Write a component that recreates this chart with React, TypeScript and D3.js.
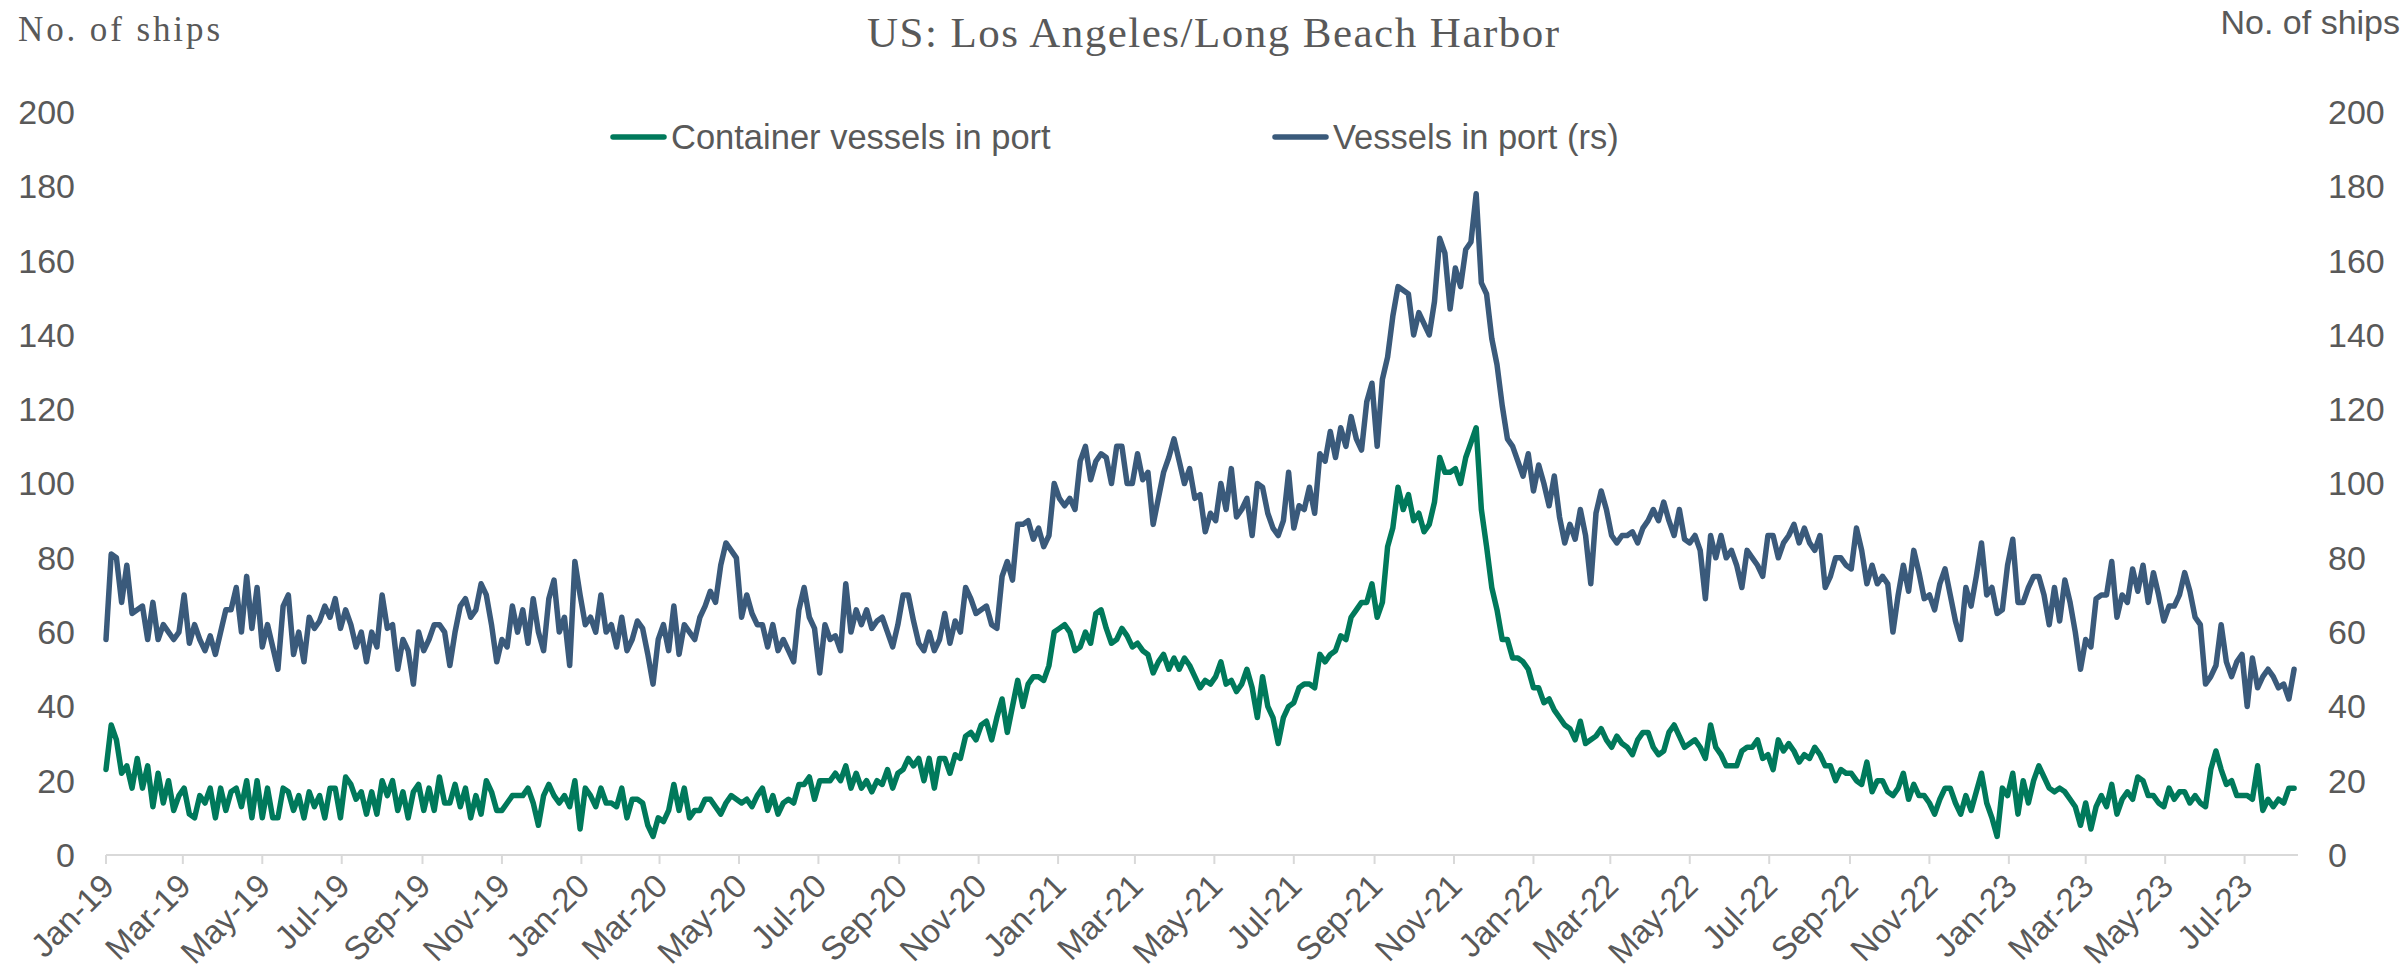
import React from 'react';
import * as d3 from 'd3';

// ---------- text ----------
const chartTitle = 'US: Los Angeles/Long Beach Harbor';
const leftAxisTitle = 'No. of ships';
const rightAxisTitle = 'No. of ships';
const containerName = 'Container vessels in port';
const vesselsName = 'Vessels in port (rs)';

// ---------- axes ----------
const yTickValues = [0, 20, 40, 60, 80, 100, 120, 140, 160, 180, 200];
const axisStart = '2019-01-01';
const axisEnd = '2023-08-11';
const sampleStepDays = 4; // one reading every 4 days, starting at axisStart

// ---------- data: container vessels in port (left scale) ----------
const container2019 = [23,35,31,22,24,18,26,18,24,13, 22,14,20,12,16,18,11,10,16,14,
  18,10,18,12,17,18,13,20,10,20, 10,18,10,10,18,17,12,16,10,17, 13,16,10,18,18,10,21,19,15,17,
  11,17,11,20,16,20,12,17,10,17, 19,12,18,12,21,14,14,19,13,18, 10,16,11,20,17,12,12,14,16,16,
  16,18,14,8,16,19,16,14,16,13, 20,7];
const container2020 = [18,16,13,18,14,14,13,18,10,15, 15,14,8,5,10,9,12,19,12,18,
  10,12,12,15,15,13,11,14,16,15, 14,15,13,16,18,12,16,11,14,15, 14,19,19,21,15,20,20,20,22,20,
  24,18,22,18,20,17,20,19,23,18, 22,23,26,24,26,20,26,18,26,26, 22,27,26,32,33,31,35,36,31,37,
  42,33,40,47,40,46,48,48,47,51, 60];
const container2021 = [61,62,60,55,56,60,57,65,66,61, 57,58,61,59,56,57,55,54,49,52,
  54,50,53,50,53,51,48,45,47,46, 48,52,46,47,44,46,50,45,37,48, 40,37,30,37,40,41,45,46,46,45,
  54,52,54,55,59,58,64,66,68,68, 73,64,68,83,88,99,93,97,90,92, 87,89,95,107,103,103,104,100,107,111,
  115,93,83,72,66,58,58,53,53,52, 50];
const container2022 = [45,45,41,42,39,37,35,34,31,36, 30,31,32,34,31,29,32,30,29,27,
  31,33,33,29,27,28,33,35,32,29, 30,31,29,26,35,29,27,24,24,24, 28,29,29,31,26,27,23,31,28,30,
  28,25,27,26,29,27,24,24,20,23, 22,22,20,19,25,17,20,20,17,16, 18,22,15,19,16,16,14,11,15,18,
  18,14,11,16,12,17,22,14,10,5, 18];
const container2023 = [16,22,11,20,14,20,24,21,18,17, 18,17,15,13,8,14,7,13,16,13,
  19,11,15,17,15,21,20,16,16,14, 13,18,15,17,17,14,16,14,13,23, 28,23,19,20,16,16,16,15,24,12,
  15,13,15,14,18,18];

// ---------- data: all vessels in port (right scale) ----------
const vessels2019 = [58,81,80,68,78,65,66,67,58,68, 58,62,60,58,60,70,57,62,58,55,
  59,54,60,66,66,72,60,75,61,72, 56,62,56,50,67,70,54,60,52,64, 61,63,67,64,69,61,66,62,56,60,
  52,60,56,70,61,62,50,58,55,46, 60,55,58,62,62,60,51,60,67,69, 64,66,73,70,62,52,58,56,67,60,
  66,57,69,60,55,69,74,60,64,51, 79,70];
const vessels2020 = [62,64,60,70,60,62,56,64,55,58, 63,61,54,46,58,62,55,67,54,62,
  60,58,64,67,71,68,78,84,82,80, 64,70,65,62,62,56,62,55,58,55, 52,66,72,64,61,49,62,58,59,55,
  73,60,66,62,66,61,63,64,60,56, 62,70,70,63,57,55,60,55,58,65, 57,63,60,72,69,65,66,67,62,61,
  75,79,74,89,89,90,85,88,83,86, 100];
const vessels2021 = [96,94,96,93,106,110,101,106,108,107, 100,110,110,100,100,108,101,103,89,96,
  103,107,112,106,100,104,96,97,87,92, 90,100,93,104,91,93,96,86,100,99, 92,88,86,90,103,88,94,93,99,92,
  108,106,114,107,115,110,118,112,109,122, 127,110,128,134,145,153,152,151,140,146,
  143,140,149,166,162,147,158,153,163,165, 178,154,151,139,132,121,112,110,106,102, 108];
const vessels2022 = [98,105,100,94,102,91,84,89,85,93, 86,73,92,98,93,86,84,86,86,87,
  84,88,90,93,90,95,90,86,93,85, 84,86,82,69,86,80,86,80,82,78, 72,82,80,78,75,86,86,80,84,86,
  89,84,88,84,82,86,72,75,80,80, 78,77,88,82,73,78,73,75,73,60, 70,78,71,82,76,69,70,66,73,77,
  70,63,58,72,67,75,84,70,72,65, 66];
const vessels2023 = [78,85,68,68,72,75,75,70,62,72, 63,74,68,60,50,58,56,69,70,70,
  79,64,70,68,77,71,78,68,76,70, 63,67,67,70,76,71,64,62,46,48, 51,62,52,48,52,54,40,53,45,48,
  50,48,45,46,42,50];

// ---------- style ----------
const GREEN = '#00795B';
const BLUE = '#3A5A7B';
const TEXT = '#595959';
const AXIS = '#D9D9D9';
const SANS = '"Liberation Sans", Arial, Helvetica, sans-serif';
const SERIF = '"Liberation Serif", "Times New Roman", Times, serif';

const W = 2407;
const H = 980;
const PLOT_LEFT = 106;
const PLOT_RIGHT = 2298;
const PLOT_TOP = 112;
const PLOT_BOTTOM = 855;

type Pt = { date: Date; value: number };

function toPoints(values: number[]): Pt[] {
  const start = new Date(axisStart + 'T00:00:00Z');
  return values.map((v, i) => ({ date: d3.utcDay.offset(start, i * sampleStepDays), value: v }));
}

export default function App() {
  const container = [...container2019, ...container2020, ...container2021, ...container2022, ...container2023];
  const vessels = [...vessels2019, ...vessels2020, ...vessels2021, ...vessels2022, ...vessels2023];
  const cPts = toPoints(container);
  const vPts = toPoints(vessels);

  const x = d3
    .scaleUtc()
    .domain([new Date(axisStart + 'T00:00:00Z'), new Date(axisEnd + 'T00:00:00Z')])
    .range([PLOT_LEFT, PLOT_RIGHT]);
  const yLeft = d3.scaleLinear().domain([0, 200]).range([PLOT_BOTTOM, PLOT_TOP]);
  const yRight = d3.scaleLinear().domain([0, 200]).range([PLOT_BOTTOM, PLOT_TOP]);

  const lineLeft = d3
    .line<Pt>()
    .x((d) => x(d.date))
    .y((d) => yLeft(d.value));
  const lineRight = d3
    .line<Pt>()
    .x((d) => x(d.date))
    .y((d) => yRight(d.value));

  const xTicks = x.ticks(d3.utcMonth.every(2) as any);
  const fmt = d3.utcFormat('%b-%y');

  return (
    <svg
      width={W}
      height={H}
      style={{ position: 'absolute', left: 0, top: 0, display: 'block', background: '#fff' }}
    >
      {/* title */}
      <text
        x={1213}
        y={47}
        textAnchor="middle"
        fontFamily={SERIF}
        fontSize={43}
        fill={TEXT}
        textLength={692}
        lengthAdjust="spacing"
      >
        {chartTitle}
      </text>
      {/* axis titles */}
      <text x={18} y={41} fontFamily={SERIF} fontSize={35} fill={TEXT} textLength={202} lengthAdjust="spacing">
        {leftAxisTitle}
      </text>
      <text x={2400} y={34} textAnchor="end" fontFamily={SANS} fontSize={34} fill={TEXT}>
        {rightAxisTitle}
      </text>

      {/* legend */}
      <g fontFamily={SANS} fontSize={34.5} fill={TEXT}>
        <line x1={613} x2={664} y1={137} y2={137} stroke={GREEN} strokeWidth={5.5} strokeLinecap="round" />
        <text x={671} y={137} dy="0.35em">{containerName}</text>
        <line x1={1275} x2={1326} y1={137} y2={137} stroke={BLUE} strokeWidth={5.5} strokeLinecap="round" />
        <text x={1333} y={137} dy="0.35em">{vesselsName}</text>
      </g>

      {/* y tick labels, left and right */}
      <g fontFamily={SANS} fontSize={34} fill={TEXT}>
        {yTickValues.map((v) => (
          <text key={'l' + v} x={75} y={yLeft(v)} dy="0.35em" textAnchor="end">
            {v}
          </text>
        ))}
        {yTickValues.map((v) => (
          <text key={'r' + v} x={2328} y={yRight(v)} dy="0.35em" textAnchor="start">
            {v}
          </text>
        ))}
      </g>

      {/* x axis */}
      <line x1={PLOT_LEFT} x2={PLOT_RIGHT} y1={PLOT_BOTTOM} y2={PLOT_BOTTOM} stroke={AXIS} strokeWidth={2} />
      {xTicks.map((t) => (
        <line
          key={'t' + t.getTime()}
          x1={x(t)}
          x2={x(t)}
          y1={PLOT_BOTTOM}
          y2={PLOT_BOTTOM + 9}
          stroke={AXIS}
          strokeWidth={2}
        />
      ))}
      <g fontFamily={SANS} fontSize={33} fill={TEXT}>
        {xTicks.map((t) => (
          <text
            key={'x' + t.getTime()}
            transform={`translate(${x(t) + 10},${PLOT_BOTTOM + 33}) rotate(-45)`}
            textAnchor="end"
          >
            {fmt(t)}
          </text>
        ))}
      </g>

      {/* series */}
      <path d={lineRight(vPts) || ''} fill="none" stroke={BLUE} strokeWidth={5.5} strokeLinejoin="round" strokeLinecap="round" />
      <path d={lineLeft(cPts) || ''} fill="none" stroke={GREEN} strokeWidth={5.5} strokeLinejoin="round" strokeLinecap="round" />
    </svg>
  );
}
